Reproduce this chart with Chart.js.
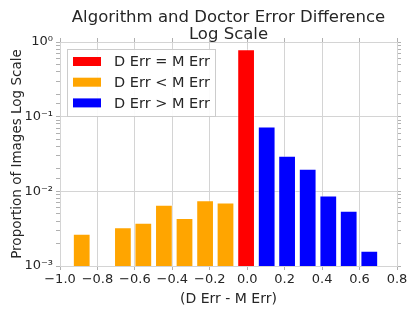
<!DOCTYPE html>
<html lang="en">
<head>
    <meta charset="UTF-8">
    <title>Algorithm and Doctor Error Difference</title>
    <style>
        body {
            margin: 0;
            background: #fff;
        }
        canvas {
            display: block;
        }
    </style>
</head>
<body>
<canvas id="errChart" width="415" height="312"></canvas>

<script src="https://cdn.jsdelivr.net/npm/chart.js"></script>
<script>
    // bin centres (D Err - M Err) and proportion of images
    const equalX = [-0.006];
    const equalY = [0.80];
    const lessX = [-0.884, -0.664, -0.555, -0.445, -0.335, -0.225, -0.116];
    const lessY = [0.0027, 0.0033, 0.0038, 0.0066, 0.0044, 0.0076, 0.0071];
    const moreX = [0.104, 0.213, 0.323, 0.433, 0.542, 0.652];
    const moreY = [0.074, 0.030, 0.020, 0.0088, 0.0055, 0.0016];

    const seriesLabels = ['D Err = M Err', 'D Err < M Err', 'D Err > M Err'];
    const titleLines = ['Algorithm and Doctor Error Difference', 'Log Scale'];
    const xTitle = '(D Err - M Err)';
    const yTitle = 'Proportion of Images Log Scale';
    const xTicks = { min: -1.0, max: 0.8, step: 0.2 };
    const yTicks = { min: 0.001, max: 1 };

    const FONT = "'DejaVu Sans', sans-serif";
    const TEXT = '#262626';
    const GRID = '#d4d4d4';

    function toPoints(xs, ys) {
        return xs.map((x, i) => ({ x: x, y: ys[i] }));
    }

    function isDecade(v) {
        const l = Math.log10(v);
        return Math.abs(l - Math.round(l)) < 1e-6;
    }

    const sup = { '0': '\u2070', '1': '\u00b9', '2': '\u00b2', '3': '\u00b3', '-': '\u207b' };
    function decadeLabel(v) {
        const p = String(Math.round(Math.log10(v)));
        return '10' + p.split('').map(c => sup[c]).join('');
    }

    function barSet(label, color, xs, ys) {
        return {
            label: label,
            data: toPoints(xs, ys),
            backgroundColor: color,
            borderColor: 'rgba(255,255,255,0.45)',
            borderWidth: 1,
            grouped: false,
            barPercentage: 0.87,
            categoryPercentage: 1.0
        };
    }

    // title centred over the plot area, matplotlib style
    const titlePlugin = {
        id: 'plotTitle',
        afterDraw(chart) {
            const { ctx, chartArea } = chart;
            const cx = (chartArea.left + chartArea.right) / 2;
            ctx.save();
            ctx.fillStyle = TEXT;
            ctx.font = '16.5px ' + FONT;
            ctx.textAlign = 'center';
            ctx.textBaseline = 'alphabetic';
            ctx.fillText(titleLines[0], cx, 21.5);
            ctx.fillText(titleLines[1], cx, 38.5);
            ctx.restore();
        }
    };

    // legend inside the upper left corner of the plot
    const legendPlugin = {
        id: 'innerLegend',
        afterDraw(chart) {
            const { ctx, chartArea } = chart;
            const x = chartArea.left + 7;
            const y = chartArea.top + 7;
            const w = 149, h = 68;
            ctx.save();
            ctx.fillStyle = 'rgba(255,255,255,0.9)';
            ctx.fillRect(x, y, w, h);
            ctx.strokeStyle = '#cccccc';
            ctx.lineWidth = 1;
            ctx.strokeRect(x + 0.5, y + 0.5, w - 1, h - 1);
            ctx.font = '14.5px ' + FONT;
            ctx.textBaseline = 'middle';
            chart.data.datasets.forEach((ds, i) => {
                const cy = y + 12.5 + i * 20.7;
                ctx.fillStyle = ds.backgroundColor;
                ctx.fillRect(x + 6, cy - 4.5, 28, 9);
                ctx.fillStyle = TEXT;
                ctx.fillText(ds.label, x + 47, cy + 1);
            });
            ctx.restore();
        }
    };

    const tickFont = { family: FONT, size: 13 };

    new Chart(document.getElementById('errChart'), {
        type: 'bar',
        data: {
            datasets: [
                barSet(seriesLabels[0], '#ff0000', equalX, equalY),
                barSet(seriesLabels[1], '#ffa500', lessX, lessY),
                barSet(seriesLabels[2], '#0000ff', moreX, moreY)
            ]
        },
        options: {
            responsive: false,
            animation: false,
            layout: { padding: 0 },
            plugins: {
                legend: { display: false },
                title: { display: false },
                tooltip: { enabled: false }
            },
            scales: {
                x: {
                    type: 'linear',
                    position: 'bottom',
                    offset: false,
                    min: xTicks.min,
                    max: xTicks.max,
                    afterFit(s) { s.height = 46; },
                    ticks: {
                        stepSize: xTicks.step,
                        color: TEXT,
                        font: tickFont,
                        padding: 2,
                        maxRotation: 0,
                        autoSkip: false,
                        callback(v) {
                            if (Math.abs(v) < 1e-9) v = 0;
                            return v.toFixed(1).replace('-', '\u2212');
                        }
                    },
                    grid: { color: GRID, tickColor: '#b0b0b0', tickLength: 4, offset: false },
                    border: { color: GRID },
                    title: {
                        display: true,
                        text: xTitle,
                        color: TEXT,
                        font: { family: FONT, size: 14 },
                        padding: { top: 1, bottom: 4 }
                    }
                },
                xTop: {
                    type: 'linear',
                    position: 'top',
                    offset: false,
                    min: xTicks.min,
                    max: xTicks.max,
                    afterFit(s) { s.height = 42; },
                    ticks: { stepSize: xTicks.step, display: false },
                    grid: { drawOnChartArea: false, tickColor: '#b0b0b0', tickLength: 4, offset: false },
                    border: { color: GRID }
                },
                y: {
                    type: 'logarithmic',
                    position: 'left',
                    min: yTicks.min,
                    max: yTicks.max,
                    afterFit(s) { s.width = 60; },
                    ticks: {
                        color: TEXT,
                        font: tickFont,
                        padding: 3,
                        autoSkip: false,
                        callback(v) {
                            return isDecade(v) ? decadeLabel(v) : '';
                        }
                    },
                    grid: {
                        color(ctx) {
                            return ctx.tick && isDecade(ctx.tick.value) ? GRID : 'rgba(0,0,0,0)';
                        },
                        tickColor: '#b0b0b0',
                        tickLength: 4
                    },
                    border: { color: GRID },
                    title: {
                        display: true,
                        text: yTitle,
                        color: TEXT,
                        font: { family: FONT, size: 13.5 },
                        padding: { top: 9, bottom: 0 }
                    }
                },
                yRight: {
                    type: 'logarithmic',
                    position: 'right',
                    min: yTicks.min,
                    max: yTicks.max,
                    afterFit(s) { s.width = 18; },
                    ticks: { display: false },
                    grid: { drawOnChartArea: false, tickColor: '#b0b0b0', tickLength: 4 },
                    border: { color: GRID }
                }
            }
        },
        plugins: [titlePlugin, legendPlugin]
    });
</script>
</body>
</html>
